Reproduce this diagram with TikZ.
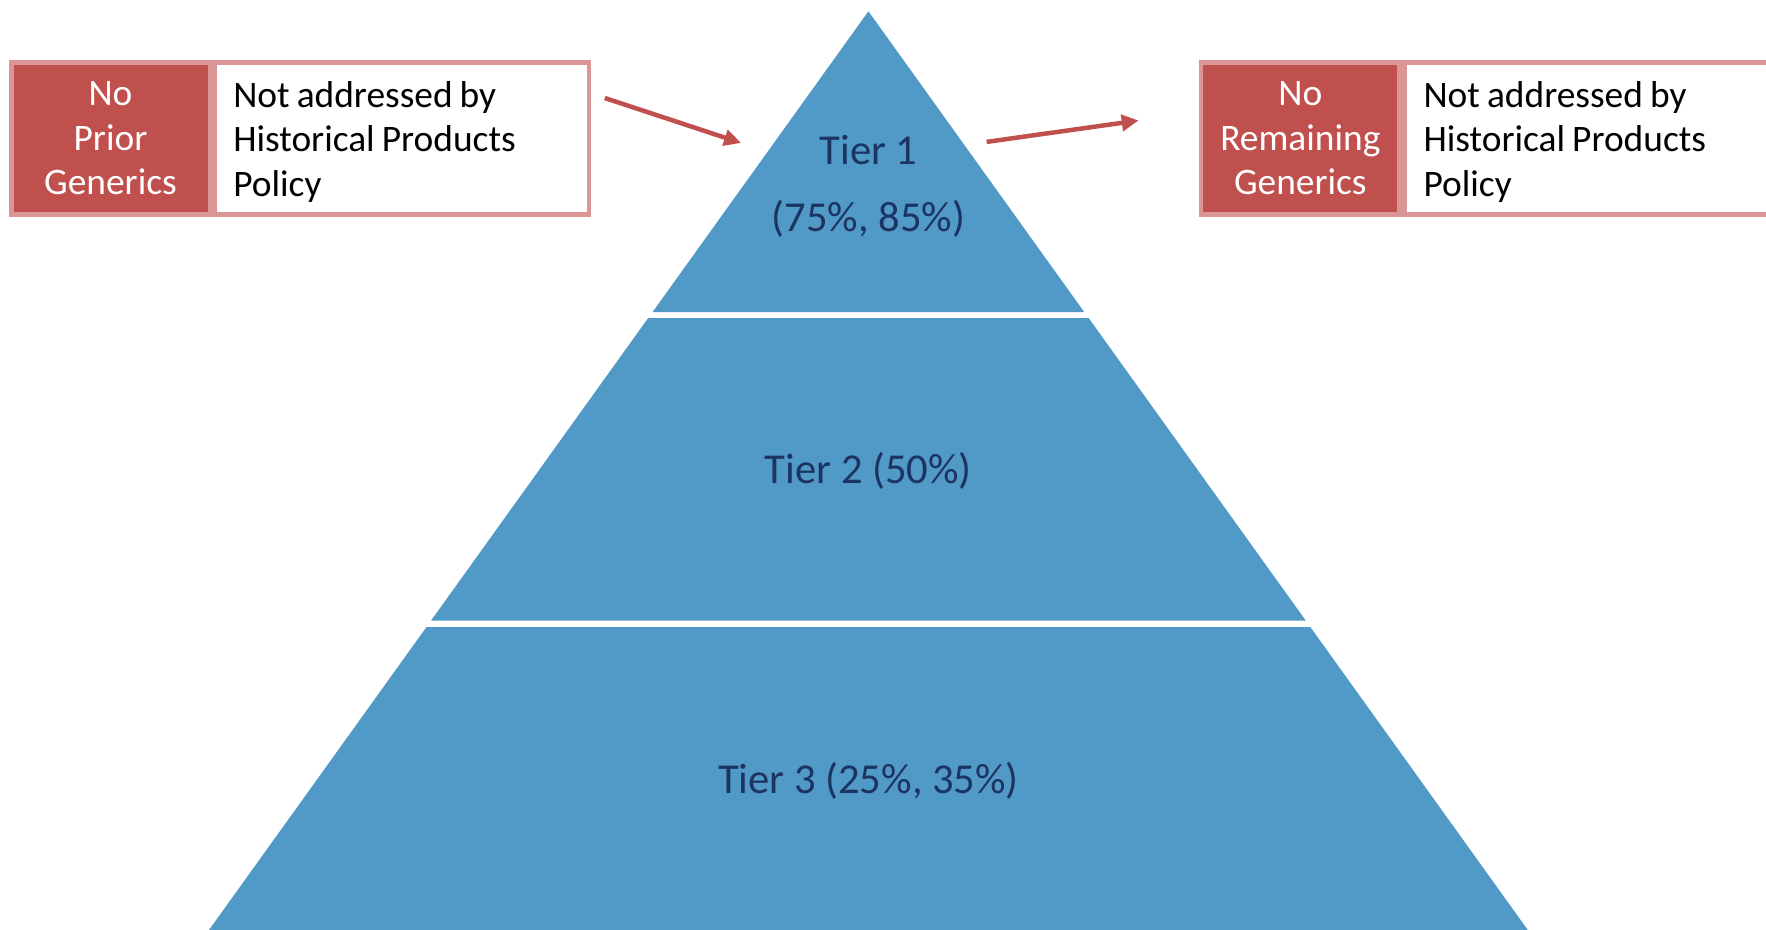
\documentclass[tikz,border=0pt]{standalone}
\usepackage{fontspec}
\setmainfont{Carlito}
\usetikzlibrary{arrows.meta}
\definecolor{tierblue}{HTML}{5199C7}
\definecolor{tiertext}{HTML}{1C3461}
\definecolor{boxred}{HTML}{C0504D}
\definecolor{boxpink}{HTML}{D99694}
\tikzset{
  redcell/.style={draw=boxpink, line width=4.5pt, fill=boxred, text=white,
    align=center, inner sep=0pt, minimum width=198.5pt, minimum height=152pt,
    font=\fontsize{37.4}{44.5}\selectfont},
  whitecell/.style={draw=boxpink, line width=4.5pt, fill=white, text=black,
    align=left, inner xsep=19pt, inner ysep=0pt, text width=336.5pt,
    minimum height=152pt, font=\fontsize{37.4}{44.5}\selectfont},
  tierlabel/.style={text=tiertext, align=center, inner sep=0pt,
    font=\fontsize{42.6}{67.6}\selectfont},
  tier/.style={fill=tierblue, draw=none},
  pointer/.style={draw=boxred, line width=4.5pt,
    -{Triangle[length=17pt, width=16pt]}}
}
% tighter word spacing and a taller first line for the note cells
\newcommand{\notetext}{\spaceskip=0.19em\relax\rule{0pt}{33pt}}
\begin{document}
\begin{tikzpicture}[x=1pt, y=-1pt]
  \useasboundingbox (0,0) rectangle (1766,929);
  \clip (0,0) rectangle (1766,929);

  % pyramid: apex (868.4,11.3), side slope 0.7178 px per px of height
  \fill[tier] (868.4,11.3) -- (1084.2,312) -- (652.6,312) -- cycle;
  \fill[tier] (648.2,318) -- (1088.6,318) -- (1305.7,620.5) -- (431.1,620.5) -- cycle;
  \fill[tier] (426.5,627) -- (1310.3,627) -- (1535.0,940) -- (201.8,940) -- cycle;

  \node[tierlabel] (t1) at (868.4,186.3) {Tier 1\\(75\%, 85\%)};
  \node[tierlabel] (t2) at (868.4,470.8) {Tier 2 (50\%)};
  \node[tierlabel] (t3) at (868.4,780.6) {Tier 3 (25\%, 35\%)};

  % left call-out
  \node[redcell] (lred) at (110.5,138.5) {No\\Prior\\Generics};
  \node[whitecell, anchor=west] (lwhite) at (212,138.5)
    {\notetext Not addressed by\\Historical Products\\Policy};

  % right call-out
  \node[redcell] (rred) at (1300.3,138.5) {No\\Remaining\\Generics};
  \node[whitecell, anchor=west] (rwhite) at (1402.3,138.5)
    {\notetext Not addressed by\\Historical Products\\Policy};

  % arrows
  \coordinate (la) at (604.8,98);
  \coordinate (lb) at (741.1,143);
  \coordinate (ra) at (986.6,141.9);
  \coordinate (rb) at (1138.7,120.5);
  \draw[pointer] (la) -- (lb);
  \draw[pointer] (ra) -- (rb);
\end{tikzpicture}
\end{document}
